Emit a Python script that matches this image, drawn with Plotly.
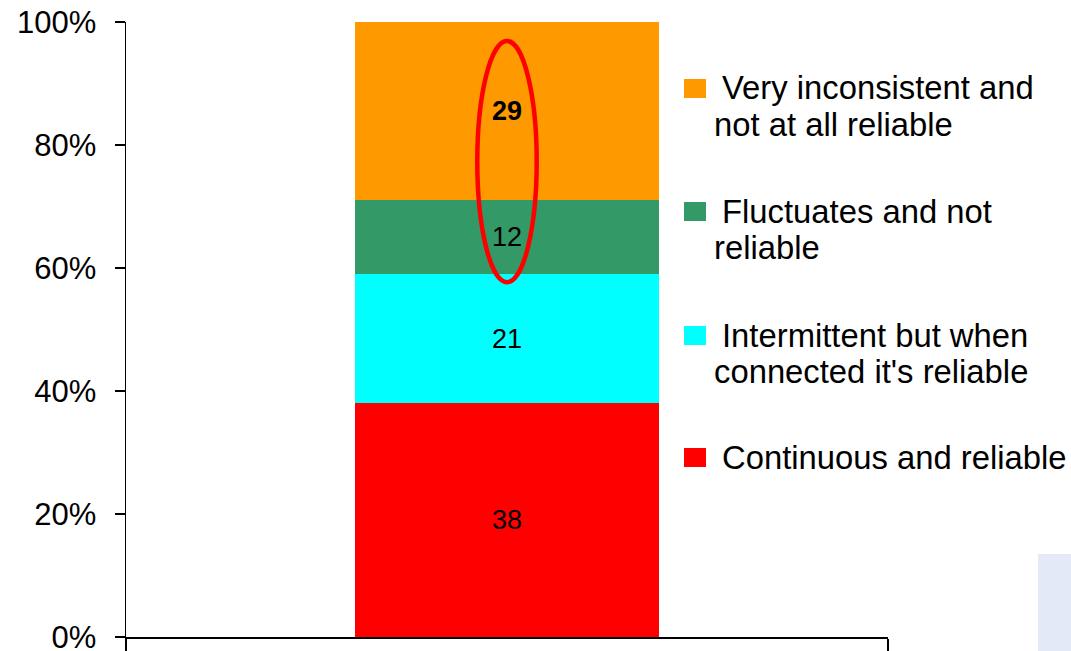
import plotly.graph_objects as go

# ---- data ----
categories = [0]
series_names = [
    "Continuous and reliable",
    "Intermittent but when connected it's reliable",
    "Fluctuates and not reliable",
    "Very inconsistent and not at all reliable",
]
series_values = [38, 21, 12, 29]
series_colors = ["#FF0000", "#00FFFF", "#339966", "#FF9900"]
legend_lines = [
    ["Continuous and reliable"],
    ["Intermittent but when", "connected it's reliable"],
    ["Fluctuates and not", "reliable"],
    ["Very inconsistent and", "not at all reliable"],
]
bold_label = [False, False, False, True]
y_tickvals = [0, 20, 40, 60, 80, 100]
y_ticktext = ["0%", "20%", "40%", "60%", "80%", "100%"]

FONT = "Arial, Liberation Sans, sans-serif"
W, H = 1071, 651
L, T, R, B = 126, 22, 888, 637  # plot area in pixels


def px_x(p):
    return (p - L) / (R - L)


def px_y(p):
    return (B - p) / (B - T)


fig = go.Figure()
for name, val, col, bold in zip(series_names, series_values, series_colors, bold_label):
    fig.add_trace(go.Bar(
        x=categories, y=[val], name=name,
        marker=dict(color=col, line=dict(width=0)),
        width=0.4,
        text=[f"<b>{val}</b>" if bold else str(val)],
        textposition="inside", insidetextanchor="middle",
        textfont=dict(family=FONT, size=27, color="black"),
        constraintext="none",
        showlegend=False,
        hoverinfo="skip",
    ))

shapes = []
annotations = []

# legend (manual, to match square size and line spacing)
first_line_y = [457, 335, 211, 88]
line_gap = 36
for lines, col, fy in zip(legend_lines, series_colors, first_line_y):
    shapes.append(dict(type="rect", xref="paper", yref="paper",
                       x0=px_x(684), x1=px_x(706), y0=px_y(fy + 10), y1=px_y(fy - 9),
                       fillcolor=col, line=dict(width=0)))
    for i, ln in enumerate(lines):
        annotations.append(dict(
            text=ln, xref="paper", yref="paper",
            x=px_x(720 if i == 0 else 712), y=px_y(fy + i * line_gap),
            xanchor="left", yanchor="middle", showarrow=False,
            font=dict(family=FONT, size=32.8, color="black"),
        ))

# red highlight ellipse around the top two values
shapes.append(dict(type="circle", xref="x", yref="y",
                   x0=-0.039, x1=0.039, y0=57.7, y1=96.9,
                   line=dict(color="#FF0000", width=4.5), fillcolor="rgba(0,0,0,0)"))

# light box at bottom right
shapes.append(dict(type="rect", xref="paper", yref="paper",
                   x0=px_x(1038), x1=px_x(1075), y0=px_y(655), y1=px_y(554),
                   fillcolor="#E3E9F6", line=dict(width=0), layer="below"))

fig.update_layout(
    width=W, height=H,
    margin=dict(l=L, r=W - R, t=T, b=H - B, autoexpand=False),
    paper_bgcolor="white", plot_bgcolor="white",
    barmode="stack",
    showlegend=False,
    hovermode=False,
    shapes=shapes, annotations=annotations,
    font=dict(family=FONT, color="black"),
    xaxis=dict(range=[-0.5, 0.5], type="linear", showgrid=False, zeroline=False,
               showline=True, linecolor="black", linewidth=1.5,
               tickmode="array", tickvals=[-0.5, 0.5], ticks="outside",
               ticklen=13, tickcolor="black", tickwidth=1.5, showticklabels=False,
               automargin=False),
    yaxis=dict(range=[0, 100], showgrid=False, zeroline=False,
               showline=True, linecolor="black", linewidth=1.5,
               tickmode="array", tickvals=y_tickvals, ticktext=y_ticktext,
               ticks="outside", ticklen=10, tickcolor="black", tickwidth=1.5,
               tickfont=dict(family=FONT, size=31, color="black"),
               ticklabelstandoff=12, automargin=False,
               ticklabeloverflow="allow"),
)

fig.write_html(
    "out.html",
    config={"displayModeBar": False, "staticPlot": True},
    post_script="document.body.style.margin='0';document.body.style.overflow='hidden';",
)
